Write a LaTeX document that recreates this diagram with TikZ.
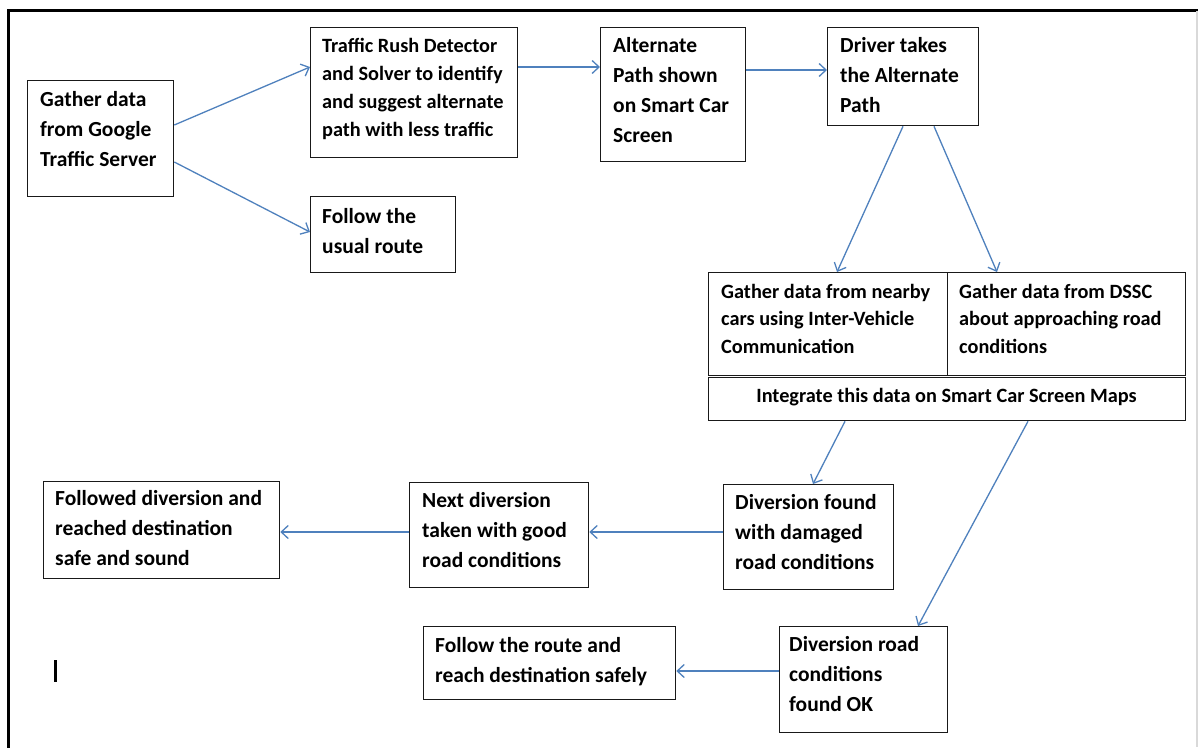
\documentclass[tikz,border=0pt]{standalone}
\usepackage{fontspec}
\setmainfont{Carlito}
\usetikzlibrary{arrows.meta,calc}
\newcommand{\tl}[1]{\parbox[t]{400pt}{#1}}
\tikzset{
  box/.style={draw=black!90, line width=1.3pt, inner sep=0pt, anchor=north west},
  txt/.style={inner sep=0pt, anchor=base west, font=\bfseries\fontsize{21.5}{30.3}\selectfont},
  txts/.style={inner sep=0pt, anchor=base west, font=\bfseries\fontsize{20.3}{28.3}\selectfont},
  txtc/.style={inner sep=0pt, anchor=base west, font=\bfseries\fontsize{20.3}{27.5}\selectfont},
  arr/.style={draw={rgb,255:red,79;green,129;blue,189}, line width=1.3pt, -{Straight Barb[length=7pt,width=13pt,line width=1.3pt]}},
  frame/.style={line width=3pt, black}
}
\begin{document}
\begin{tikzpicture}[x=1pt,y=-1pt]
\useasboundingbox[fill=white] (0,0) rectangle (1198,747);
% frame
\draw[frame] (8,750) -- (8,10) -- (1198,10);
\draw[black!15, line width=1.5pt] (1197,11) -- (1197,747);
% boxes
\node[box, minimum width=146pt, minimum height=116pt] (gather) at (27,80) {};
\node[box, minimum width=207pt, minimum height=130pt] (traffic) at (310,27) {};
\node[box, minimum width=145pt, minimum height=76pt] (usual) at (310,196) {};
\node[box, minimum width=145pt, minimum height=134pt] (alt) at (600,27) {};
\node[box, minimum width=151pt, minimum height=98pt] (driver) at (827,27) {};
\node[box, minimum width=239pt, minimum height=103pt] (nearby) at (708,272) {};
\node[box, minimum width=238pt, minimum height=103pt] (dssc) at (947,272) {};
\node[box, minimum width=477pt, minimum height=43pt] (integrate) at (708,377) {};
\node[box, minimum width=170pt, minimum height=105pt] (damaged) at (723,484) {};
\node[box, minimum width=179pt, minimum height=105pt] (next) at (409,482) {};
\node[box, minimum width=236pt, minimum height=97pt] (followed) at (43,481) {};
\node[box, minimum width=168pt, minimum height=106pt] (ok) at (779,626) {};
\node[box, minimum width=252pt, minimum height=73pt] (route) at (423,626) {};
% texts
\node[txt] (gatherT) at (40,106) {\tl{Gather data\\from Google\\Traffic Server}};
\node[txts] (trafficT) at (322,52) {\tl{Traffic Rush Detector\\and Solver to identify\\and suggest alternate\\path with less traffic}};
\node[txt] (usualT) at (322,223) {\tl{Follow the\\usual route}};
\node[txt] (altT) at (613,52) {\tl{Alternate\\Path shown\\on Smart Car\\Screen}};
\node[txt] (driverT) at (840,52) {\tl{Driver takes\\the Alternate\\Path}};
\node[txtc] (nearbyT) at (721,298) {\tl{Gather data from nearby\\cars using Inter-Vehicle\\Communication}};
\node[txtc] (dsscT) at (959,298) {\tl{Gather data from DSSC\\about approaching\ road\\conditions}};
\node[txtc, anchor=base] (integrateT) at (946.5,402) {Integrate this data on Smart Car Screen Maps};
\node[txt] (damagedT) at (735,509) {\tl{Diversion found\\with damaged\\road conditions}};
\node[txt] (nextT) at (422,507) {\tl{Next diversion\\taken with good\\road conditions}};
\node[txt] (followedT) at (55,505) {\tl{Followed diversion and\\reached destination\\safe and sound}};
\node[txt] (okT) at (789,651) {\tl{Diversion road\\conditions\\found OK}};
\node[txt] (routeT) at (435,652) {\tl{Follow the route and\\reach destination safely}};
% cursor mark
\draw[line width=3pt] (55,660) -- (55,682);
% connectors
\draw[arr] ([yshift=-45pt]gather.north east) -- ([yshift=-40pt]traffic.north west);
\draw[arr] ([yshift=-82pt]gather.north east) -- ([yshift=-36pt]usual.north west);
\draw[arr] ([yshift=-40pt]traffic.north east) -- ([yshift=-40pt]alt.north west);
\draw[arr] ([yshift=-43pt]alt.north east) -- ([yshift=-43pt]driver.north west);
\draw[arr] ([xshift=76pt]driver.south west) -- ([xshift=129pt]nearby.north west);
\draw[arr] ([xshift=107pt]driver.south west) -- ([xshift=50pt]dssc.north west);
\draw[arr] ([xshift=137pt]integrate.south west) -- ([xshift=90pt]damaged.north west);
\draw[arr] ([xshift=320pt]integrate.south west) -- ([xshift=139pt]ok.north west);
\draw[arr] ([yshift=-48pt]damaged.north west) -- ([yshift=-48pt]damaged.north west -| next.east);
\draw[arr] ([yshift=-50pt]next.north west) -- ([yshift=-50pt]next.north west -| followed.east);
\draw[arr] ([yshift=-45pt]ok.north west) -- ([yshift=-45pt]ok.north west -| route.east);
\end{tikzpicture}
\end{document}
